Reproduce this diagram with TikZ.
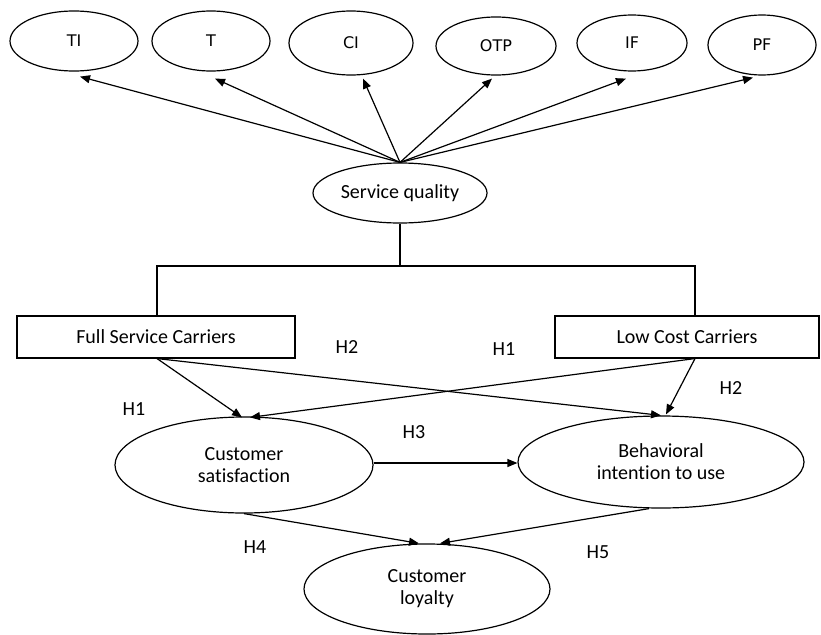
\documentclass[tikz,border=0pt]{standalone}
\usepackage{fontspec}
\setmainfont{Carlito}[Ligatures=NoCommon]
\newfontfamily\topfont{DejaVu Sans}
\usetikzlibrary{shapes.geometric,arrows.meta,calc}
\begin{document}
\begin{tikzpicture}[x=1pt,y=-1pt,
  every node/.style={font=\fontsize{20}{22}\selectfont, inner sep=0pt},
  oval/.style={draw, ellipse, line width=1.2pt, align=center},
  topoval/.style={oval, font=\topfont\fontsize{16}{18}\selectfont},
  carrier/.style={draw, rectangle, line width=1.1pt},
  link/.style={line width=1.2pt},
  arr/.style={link, -{Triangle[length=10pt,width=8pt]}},
  hlabel/.style={}]
\useasboundingbox (0,0) rectangle (821,634);
\fill[white] (0,0) rectangle (821,634);

% top indicator ellipses
\node[topoval, minimum width=128pt, minimum height=60pt] (ti) at (74,41) {TI};
\node[topoval, minimum width=118pt, minimum height=60pt] (t) at (211,41) {T};
\node[topoval, minimum width=124pt, minimum height=64pt] (ci) at (351,43) {CI};
\node[topoval, minimum width=120pt, minimum height=58pt] (otp) at (496,46) {OTP};
\node[topoval, minimum width=110pt, minimum height=56pt] (if) at (632,43) {IF};
\node[topoval, minimum width=108pt, minimum height=60pt] (pf) at (762,45) {PF};

% service quality
\node[oval, minimum width=174pt, minimum height=60pt] (sq) at (400,193) {Service quality};

\draw[arr] (sq.north) -- ($(ti.south)+(6,5)$);
\draw[arr] (sq.north) -- ($(t.south)+(4,7)$);
\draw[arr] (sq.north) -- ($(ci.south)+(12,3)$);
\draw[arr] (sq.north) -- ($(otp.south)+(-4,3)$);
\draw[arr] (sq.north) -- ($(if.south)+(-6,7)$);
\draw[arr] (sq.north) -- ($(pf.south)+(-9,2)$);

% carriers
\node[carrier, minimum width=278pt, minimum height=42pt] (fsc) at (156,337) {Full Service Carriers};
\node[carrier, minimum width=264pt, minimum height=42pt] (lcc) at (687,337) {Low Cost Carriers};

\coordinate (fj) at (157,266);
\coordinate (lj) at (695,266);
\draw[link] (sq.south) -- (sq.south |- fj);
\draw[link] (fj |- fsc.north) -- (fj) -- (lj) -- (lj |- lcc.north);

% constructs
\node[oval, minimum width=258pt, minimum height=96pt] (cs) at (244,465) {Customer\\satisfaction};
\node[oval, minimum width=286pt, minimum height=92pt] (bi) at (661,462) {Behavioral\\intention to use};
\node[oval, minimum width=246pt, minimum height=90pt] (cl) at (427,589) {Customer\\loyalty};

\coordinate (fs) at (fj |- fsc.south);
\coordinate (ls) at (lj |- lcc.south);
\draw[arr] (fs) -- ($(cs.north)+(-2,1)$);
\draw[arr] (ls) -- ($(cs.north)+(6,1)$);
\draw[arr] (fs) -- ($(bi.north)+(0,0)$);
\draw[arr] (ls) -- ($(bi.north)+(5,-1)$);
\draw[arr] (cs.east |- 0,463) -- (bi.west |- 0,463);
\draw[arr] (cs.south) -- ($(cl.north)+(-8,0)$);
\draw[arr] ($(bi.south)+(-12,0)$) -- ($(cl.north)+(13,0)$);

% hypothesis labels
\node[hlabel] (h2a) at (347,347) {H2};
\node[hlabel] (h1a) at (504,349) {H1};
\node[hlabel] (h2b) at (731,388) {H2};
\node[hlabel] (h1b) at (134,409) {H1};
\node[hlabel] (h3) at (414,432) {H3};
\node[hlabel] (h4) at (255,547) {H4};
\node[hlabel] (h5) at (598,552) {H5};
\end{tikzpicture}
\end{document}
